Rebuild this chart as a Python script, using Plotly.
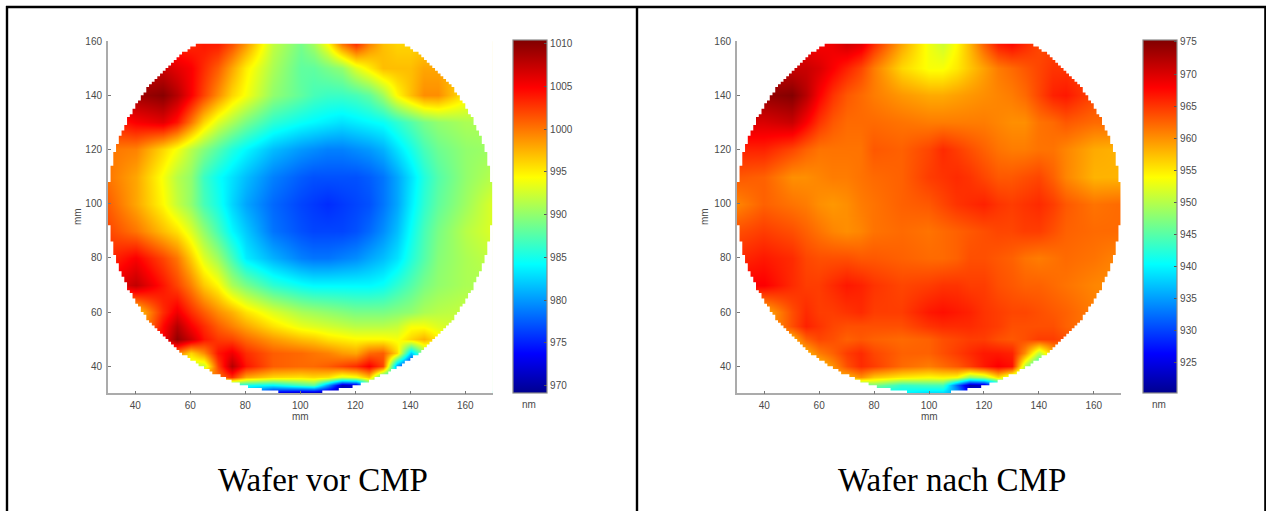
import numpy as np
import plotly.graph_objects as go

# grid positions of the readings (mm)
x_mm = [30,40,50,55,60,65,70,75,80,90,100,105,110,115,120,125,130,135,140,145,150,160,170]
y_mm = [30,33,36,40,45,50,55,60,70,80,90,100,110,120,130,140,150,160]

# Wafer vor CMP, thickness in nm, rows from y=30 up to y=160
vor_z = [
 [985,985,985,985,985,985,985,985,980,972,970,970,970,970,972,980,985,985,985,985,985,985,985],
 [985,985,985,985,985,985,985,985,985,984,987,988,980,971,972,985,990,990,990,990,990,990,990],
 [1000,1000,1000,1000,1000,1000,1000,1003,998,996,995.5,996,995.5,993,994,997,985,985,985,990,990,990,990],
 [992,992,992,992,992,992,1002,1008,1004,1001,1000.5,1000.5,1001,1002,1003,1005,1002,980,972,985,990,990,990],
 [1000,1000,1000,1000,996,999,1004,1005.5,1003,1001,1000.5,1000,999.5,998.5,998,1000.5,1001,996,982,990,992,991,991],
 [1005,1005,1005,1009.5,1007,1004,1002.5,1002,1000.5,998.5,997,996.5,995.5,995,994.5,994.5,994.5,994,996,997.5,995,992,992],
 [996,996,1004.5,1008,1005,1003,1001,999.5,998,995.5,993.5,993,992.5,992,991.5,991.5,991.5,992,994,994,993,992,992],
 [996,996,1003,1005.5,1003,1001,999,997.5,995.5,993,991,990.5,990,989.5,989,989,989,989.5,990,991,991.5,992,992],
 [1005,1007.5,1004,1002,999.5,996.5,994.5,991,989,986,984.5,984,984,984,984,984,984.5,986,987.5,989,990,991,991],
 [1003,1005,1002,1000,996.5,993,990.5,987,983.5,981,979,978.5,978.5,979,979.5,980.5,981.5,983,985.5,987.5,989.5,991,992],
 [1002,1000,997,995.5,993,990,987,984,982,978.5,977,976.5,976.5,976.5,977,978,979.5,981.5,984.5,987,989,991.5,993],
 [1001,998,994.5,992,990,987,985,982.5,980.5,978,976.5,976,975.5,976,976.5,977,978.5,980.5,983.5,986,988,990.5,993],
 [1000,998,994,991.5,990,986.5,984.5,983,981.5,979,977.5,977,977,977,977,977.5,978.5,980.5,983,985.5,987.5,990,991.5],
 [1000,999.5,996,994,991.5,989.5,987.5,985.5,984,981.5,980,979.5,979,979,979.5,980,981,983,985,987,988.5,990,990.5],
 [1003,1005,1006,1004,1000,996,993,991,989,986,984.5,984,983.5,983,983.5,984,984.5,986,987.5,989,990,991,991],
 [1007,1009,1010,1008,1005,1002,999,996,994,990,988,987,986.5,986.5,987,988,990.5,994.5,997,999,999,995,993],
 [1007,1007,1007,1006,1005,1003,1001,998,995,991,988,988,989,990,993,995,997,997,997,998,998,997,996],
 [1002,1002,1003,1003,1003,1004,1004,1002,999,992,989,991,995,1001,1004,1000,997,996,996,996,996,996,996],
]

# Wafer nach CMP, thickness in nm, rows from y=30 up to y=160
nach_z = [
 [940,940,940,940,940,940,940,940,940,940,938,938,935,925,925,940,945,945,945,945,945,945,945],
 [945,945,945,945,945,945,945,945,947,943,944,944,932,922,923,935,945,945,945,945,945,945,945],
 [958,958,958,958,958,958,958,960,957,955,954,954.5,954,948,950,956,950,945,945,945,945,945,945],
 [958,958,958,958,957,960,963.5,965.5,964.5,962,961,962,963,964.5,966.5,968,967,950,940,948,955,955,955],
 [958,958,958,958,961,962.5,964.5,965.5,964,962.5,962.5,963.5,964.5,965.5,966.5,966.5,966,960,950,958,960,960,960],
 [958,958,958,962.5,964,963.5,962.5,963,962.5,962,962.5,963.5,964,964.5,964.5,963.5,963,963.5,964.5,964.5,963.5,962,962],
 [958,958,963.5,966,965,964,963.5,963.5,963.5,963.5,965,965.5,965.5,965.5,965,964.5,963.5,963.5,963.5,963.5,962.5,961,961],
 [958,958,963.5,965.5,964.5,964.5,965,965.5,964.5,964.5,966.5,967,966.5,966,965,964.5,964,964,963.5,963,962.5,961,961],
 [968,968,965.5,964.5,964.5,965.5,966.5,966,965,964,964.5,965,965,964.5,964.5,963.5,963,962.5,962.5,962,961.5,960.5,960],
 [965.5,966.5,965.5,964,963.5,963.5,963.5,963,963,962.5,962,962,962.5,963.5,963.5,963,962.5,961.5,961,961.5,962,961.5,960.5],
 [963.5,964.5,963.5,962.5,961.5,960.5,960,960.5,961.5,962,961.5,962,962.5,963,963.5,964,964,964.5,964.5,963.5,962.5,962,962],
 [960.5,962.5,961.5,961,960,959.5,960,961,961.5,962.5,963,964,965,965.5,966,965,964.5,965,965.5,964.5,963,961.5,962],
 [963,962.5,960,960,960.5,961,961,961.5,962,962.5,964.5,965,965.5,965,964,963,963,963.5,964,962.5,960.5,958,958],
 [966,966,964,962.5,961.5,961.5,961.5,961.5,963,962.5,964,965.5,964.5,963.5,962.5,961.5,961,961,961.5,961.5,960.5,958.5,958],
 [970,970,971,968,965,963,962,962,962,961.5,961,961,961,961,961,960.5,960,960,961.5,962,963,962,962],
 [974,974,975,972,968,965,963,962,961,959.5,958.5,958.5,959,959.5,960,960.5,961,962,964,966,966.5,964,963],
 [971,971,971,971,970,968,966,964,961,956,953.5,953.5,955,957,959,961,962,963,964,965,965,964,964],
 [968,968,968,968,968,969,971,970,966,959,953,951,954,958,963,967,968,966,964,964,964,964,964],
]

x_ticks = [40,60,80,100,120,140,160]
y_ticks = [40,60,80,100,120,140,160]
vor_ticks = [970,975,980,985,990,995,1000,1005,1010]
nach_ticks = [925,930,935,940,945,950,955,960,965,970,975]
vor_range = [969.1, 1010.4]
nach_range = [920.16, 975.26]
captions = ["Wafer vor CMP", "Wafer nach CMP"]

W, H = 1266, 511
JET = [[0,"#00008f"],[0.111,"#0000ff"],[0.365,"#00ffff"],[0.611,"#ffff00"],[0.865,"#ff0000"],[1,"#800000"]]
FONT = "Liberation Sans, Arial, sans-serif"
TICK = "#4a4a4a"

def wafer_outline():
    """White area around the wafer: frame, then stepped edge (1 mm cells, R=70, flat at y=159)."""
    cells = np.arange(30, 170)
    half = np.sqrt(np.maximum(70**2 - (cells + 0.5 - 100)**2, 0))
    low = np.round(100 - half)
    up = np.minimum(np.round(100 + half), 159)
    px = [100,100,175,175,25,25,100,100]
    py = [30,25,25,165,165,25,25,30]
    for i in range(69, -1, -1):
        px += [cells[i]+1, cells[i]]; py += [low[i], low[i]]
    for i in range(0, 140):
        px += [cells[i], cells[i]+1]; py += [up[i], up[i]]
    for i in range(139, 69, -1):
        px += [cells[i]+1, cells[i]]; py += [low[i], low[i]]
    px.append(100); py.append(30)
    return px, py

fig = go.Figure()
panels = [
    (vor_z, vor_range, vor_ticks, 513.3, 34, "x", "y"),
    (nach_z, nach_range, nach_ticks, 1143.3, 34.4, "x2", "y2"),
]
mx, my = wafer_outline()
for z, rng, ticks, cb_left, cb_w, xa, ya in panels:
    fig.add_trace(go.Heatmap(
        x=x_mm, y=y_mm, z=z, zmin=rng[0], zmax=rng[1], zsmooth="best",
        colorscale=JET, xaxis=xa, yaxis=ya, hoverinfo="skip",
        colorbar=dict(
            x=cb_left/W, xanchor="left", xpad=0, ypad=0,
            y=(H-393.3)/H, yanchor="bottom", len=353.3/H, lenmode="fraction",
            thickness=cb_w, thicknessmode="pixels",
            tickmode="array", tickvals=ticks, ticks="inside", ticklen=3,
            tickcolor="#555", tickwidth=1, outlinecolor="#8a8a8a", outlinewidth=1.2,
            tickfont=dict(family=FONT, size=10, color=TICK),
        ),
    ))
    fig.add_trace(go.Scatter(
        x=mx, y=my, mode="lines", fill="toself", fillcolor="white",
        line=dict(width=0, color="white"), xaxis=xa, yaxis=ya,
        hoverinfo="skip", showlegend=False,
    ))

def axis(dom, rng, vals, anchor):
    return dict(domain=dom, range=rng, tickmode="array", tickvals=vals, ticks="inside",
                ticklen=3, tickcolor="#777", tickwidth=1, showgrid=False, zeroline=False,
                showline=True, linecolor="#ababab", linewidth=1.5, anchor=anchor, ticklabelstandoff=2,
                tickfont=dict(family=FONT, size=10, color=TICK))

ydom = [(H-393.3)/H, (H-41)/H]
fig.update_layout(
    width=W, height=H, margin=dict(l=0, r=0, t=0, b=0, autoexpand=False),
    paper_bgcolor="white", plot_bgcolor="white", showlegend=False,
    xaxis=axis([107.8/W, 492.8/W], [30,170], x_ticks, "y"),
    yaxis=axis(ydom, [30,160], y_ticks, "x"),
    xaxis2=axis([736.8/W, 1121.2/W], [30,170], x_ticks, "y2"),
    yaxis2=axis(ydom, [30,160], y_ticks, "x2"),
)

# the smoothed image can overrun the plot area by a pixel on its open sides
for xr, yr in (("x", "y"), ("x2", "y2")):
    edge = dict(color="white", width=4)
    fig.add_shape(type="line", xref=xr, yref=yr, x0=30.5, x1=172, y0=160.6, y1=160.6, line=edge)
    fig.add_shape(type="line", xref=xr, yref=yr, x0=170.5, x1=170.5, y0=30.8, y1=162, line=edge)

def note(text, px, py, size, family=FONT, color=TICK, angle=0):
    fig.add_annotation(text=text, xref="paper", yref="paper", x=px/W, y=1-py/H,
                       xanchor="center", yanchor="middle", showarrow=False, textangle=angle,
                       font=dict(family=family, size=size, color=color))

for px in (300, 929):
    note("mm", px, 416, 10)
for px in (78, 705):
    note("mm", px, 217, 10, angle=-90)
for px in (529, 1159):
    note("nm", px, 404, 10)
note(captions[0], 322.5, 480, 33, family="Liberation Serif, Times New Roman, serif", color="#000")
note(captions[1], 952, 480, 33, family="Liberation Serif, Times New Roman, serif", color="#000")

# table rules
line = dict(color="black", width=2.4)
fig.add_shape(type="line", xref="paper", yref="paper", x0=6/W, x1=1, y0=1-7/H, y1=1-7/H, line=line)
fig.add_shape(type="line", xref="paper", yref="paper", x0=7/W, x1=7/W, y0=1-6/H, y1=0, line=line)
fig.add_shape(type="line", xref="paper", yref="paper", x0=637/W, x1=637/W, y0=1-7/H, y1=0, line=line)
fig.add_shape(type="line", xref="paper", yref="paper", x0=1265.4/W, x1=1265.4/W, y0=1-6/H, y1=0, line=line)

fig.write_html("out.html", config={"displayModeBar": False}, post_script=(
    "document.body.style.margin='0';document.body.style.overflow='hidden';"
    "var d=document.getElementById('{plot_id}');d.style.position='fixed';d.style.left='0';d.style.top='0';"
))
